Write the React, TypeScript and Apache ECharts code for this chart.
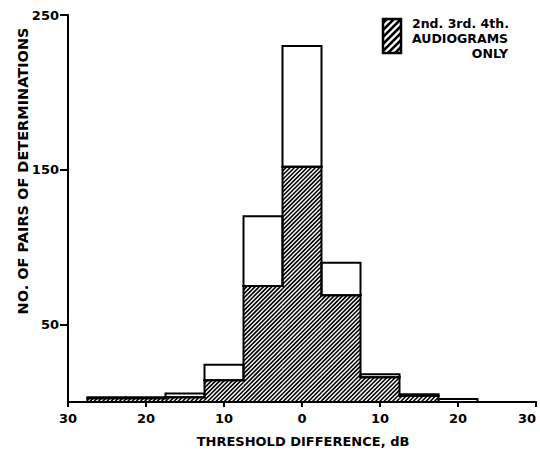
import React, { useEffect, useRef } from "react";
import * as echarts from "echarts";

// Histogram bins (threshold difference, dB), 5 dB wide
const binStarts = [-27.5, -22.5, -17.5, -12.5, -7.5, -2.5, 2.5, 7.5, 12.5, 17.5];
const binWidth = 5;
// Total number of pairs of determinations per bin
const allCounts = [3, 3, 5.5, 24, 120, 230, 90, 18, 5, 2];
// 2nd, 3rd, 4th audiograms only (hatched)
const laterCounts = [2.5, 2.5, 3, 14, 75, 152, 69, 16, 4, 0];
const yTickValues = [50, 150, 250];
const legendLines = ["2nd. 3rd. 4th.", "AUDIOGRAMS", "ONLY"];
const xTitle = "THRESHOLD DIFFERENCE, dB";
const yTitle = "NO. OF PAIRS OF DETERMINATIONS";

const FONT = "DejaVu Sans";

function hatch(x0: number, y0: number, x1: number, y1: number, step: number, lw: number) {
  const out: any[] = [];
  const kStart = Math.ceil((x0 + y0) / step);
  const kEnd = Math.floor((x1 + y1) / step);
  for (let k = kStart; k <= kEnd; k++) {
    const c = k * step;
    const xa = Math.max(x0, c - y1);
    const xb = Math.min(x1, c - y0);
    if (xb > xa + 0.3) {
      out.push({
        type: "line",
        shape: { x1: xa, y1: c - xa, x2: xb, y2: c - xb },
        style: { stroke: "#000", lineWidth: lw, lineCap: "butt" },
        silent: true,
      });
    }
  }
  return out;
}

function seg(x1: number, y1: number, x2: number, y2: number, lw = 2) {
  return {
    type: "line",
    shape: { x1, y1, x2, y2 },
    style: { stroke: "#000", lineWidth: lw, lineCap: "square" },
  };
}

export default function App() {
  const ref = useRef<HTMLDivElement>(null);
  useEffect(() => {
    if (!ref.current) return;
    const chart = echarts.init(ref.current, undefined, { renderer: "svg" });
    const data = binStarts.map((s, i) => [s, s + binWidth, allCounts[i], laterCounts[i]]);

    const lx = 383, ly = 19, lw = 18, lh = 34;
    const legendHatch = hatch(lx, ly, lx + lw, ly + lh, 7, 2.5);

    chart.setOption({
      animation: false,
      backgroundColor: "#fff",
      grid: { left: 68, right: 4, top: 15, bottom: 48, containLabel: false, outerBoundsMode: "none" },
      xAxis: {
        type: "value",
        min: -30,
        max: 30,
        interval: 10,
        splitLine: { show: false },
        axisLine: { onZero: false, lineStyle: { color: "#000", width: 2 } },
        axisTick: { show: true, length: 5, lineStyle: { color: "#000", width: 2 } },
        axisLabel: {
          formatter: (v: number) => String(Math.abs(v)),
          color: "#000",
          fontFamily: FONT,
          fontWeight: "bold",
          fontSize: 13,
          margin: 10,
          alignMaxLabel: "right",
        },
      },
      yAxis: {
        type: "value",
        min: 0,
        max: 250,
        interval: 50,
        splitLine: { show: false },
        axisLine: { show: true, onZero: false, lineStyle: { color: "#000", width: 2 } },
        axisTick: {
          show: true,
          length: 8,
          customValues: yTickValues,
          lineStyle: { color: "#000", width: 2 },
        },
        axisLabel: {
          customValues: yTickValues,
          color: "#000",
          fontFamily: FONT,
          fontWeight: "bold",
          fontSize: 13,
          margin: 9,
        },
      },
      series: [
        {
          type: "custom",
          data,
          encode: { x: [0, 1], y: [2, 3] },
          renderItem: (params: any, api: any) => {
            const i = params.dataIndex;
            const s = api.value(0), e = api.value(1), tot = api.value(2), hat = api.value(3);
            const prevHat = i > 0 ? laterCounts[i - 1] : 0;
            const pb = api.coord([s, 0]);
            const pt = api.coord([e, tot]);
            const ph = api.coord([e, hat]);
            const pp = api.coord([s, prevHat]);
            const children: any[] = [];
            if (hat > 0) {
              children.push(...hatch(pb[0], ph[1], pt[0], pb[1], 4.2, 1.6));
            }
            // white (non-hatched) part of the bar
            if (tot > hat) {
              children.push({
                type: "rect",
                shape: { x: pb[0], y: pt[1], width: pt[0] - pb[0], height: ph[1] - pt[1] },
                style: { fill: "none", stroke: "#000", lineWidth: 2 },
              });
            }
            // hatched envelope outline
            children.push(seg(pb[0], ph[1], pt[0], ph[1]));
            children.push(seg(pb[0], pp[1], pb[0], ph[1]));
            if (i === binStarts.length - 1 && hat > 0) {
              children.push(seg(pt[0], ph[1], pt[0], pb[1]));
            }
            return { type: "group", children };
          },
        },
      ],
      graphic: [
        ...legendHatch,
        {
          type: "rect",
          shape: { x: lx, y: ly, width: lw, height: lh },
          style: { fill: "none", stroke: "#000", lineWidth: 2.5 },
        },
        {
          type: "text",
          x: 412,
          y: 23,
          style: { text: legendLines[0], font: `bold 12.5px "${FONT}"`, fill: "#000", verticalAlign: "middle" },
        },
        {
          type: "text",
          x: 412,
          y: 38,
          style: { text: legendLines[1], font: `bold 12.5px "${FONT}"`, fill: "#000", verticalAlign: "middle" },
        },
        {
          type: "text",
          x: 508,
          y: 53,
          style: { text: legendLines[2], font: `bold 12.5px "${FONT}"`, fill: "#000", verticalAlign: "middle", align: "right" },
        },
        {
          type: "text",
          x: 303,
          y: 441,
          style: { text: xTitle, font: `bold 13px "${FONT}"`, fill: "#000", verticalAlign: "middle", align: "center" },
        },
        {
          type: "text",
          x: 23,
          y: 171,
          rotation: Math.PI / 2,
          style: { text: yTitle, font: `bold 14.5px "${FONT}"`, fill: "#000", verticalAlign: "middle", align: "center" },
        },
      ],
    });
    return () => chart.dispose();
  }, []);
  return <div ref={ref} style={{ width: 540, height: 450, position: "absolute", left: 0, top: 0 }} />;
}
